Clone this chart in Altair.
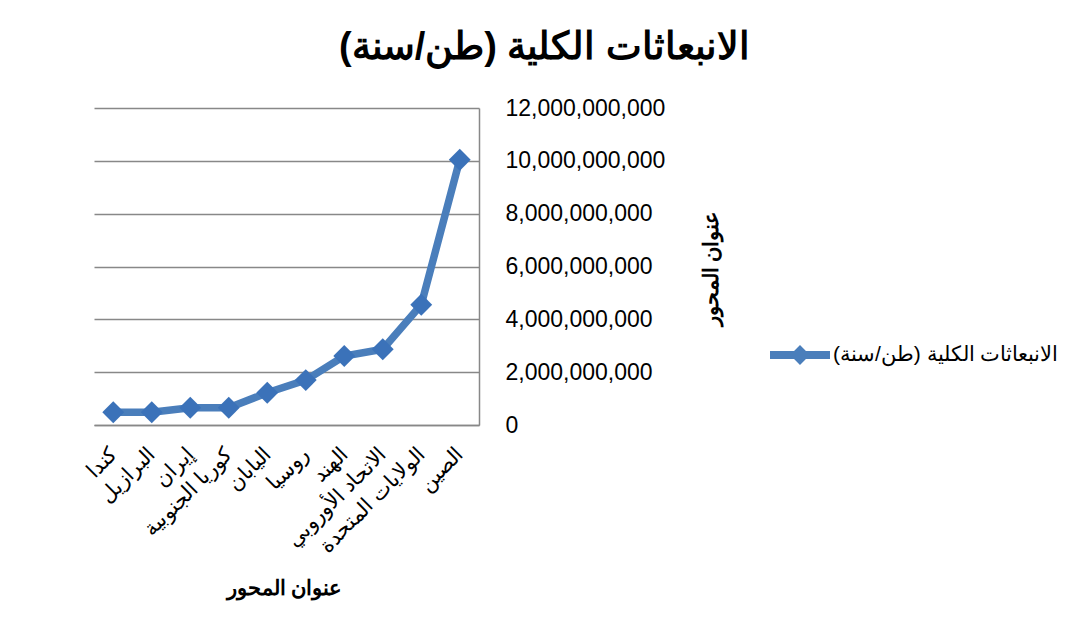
import altair as alt
import pandas as pd

countries = ["كندا", "البرازيل", "إيران", "كوريا الجنوبية", "اليابان", "روسيا",
             "الهند", "الاتحاد الأوروبي", "الولايات المتحدة", "الصين"]
emissions = [480_000_000, 480_000_000, 655_000_000, 655_000_000, 1_220_000_000,
             1_700_000_000, 2_610_000_000, 2_870_000_000, 4_550_000_000, 10_040_000_000]
series_name = "الانبعاثات الكلية (طن/سنة)"
y_ticks = [0, 2e9, 4e9, 6e9, 8e9, 10e9, 12e9]

df = pd.DataFrame({"country": countries, "value": emissions, "series": series_name})

FONT = "Liberation Sans"
LINE = "#4a7ebb"
MARK = "#3b72b9"

x_enc = alt.X("country:N", sort=countries,
              scale=alt.Scale(type="point", padding=0.5),
              axis=alt.Axis(title="عنوان المحور", labelAngle=-45, labelAlign="right",
                            labelBaseline="middle", labelPadding=26, labelFontSize=21,
                            labelFont=FONT, labelColor="#000", ticks=False,
                            domainColor="#888888", domainWidth=1.5, grid=False,
                            titleFont=FONT, titleFontSize=21, titleFontWeight="bold",
                            titleColor="#000", titleBaseline="middle", titleY=163,
                            titleX=190, titleAlign="center"))
y_enc = alt.Y("value:Q", scale=alt.Scale(domain=[0, 12e9], nice=False),
              axis=alt.Axis(orient="right", values=y_ticks, format=",d",
                            title="عنوان المحور", titleAngle=270, titleX=232, titleY=160,
                            titleAlign="center", titleBaseline="middle",
                            titleFont=FONT, titleFontSize=21, titleFontWeight="bold",
                            titleColor="#000", labelFont=FONT, labelFontSize=23,
                            labelColor="#000", labelPadding=26, ticks=False,
                            domainColor="#888888", domainWidth=1.5,
                            grid=True, gridColor="#888888", gridWidth=1.5))

legend_symbol = "M-1,-0.13L1,-0.13L1,0.13L-1,0.13Z M0,-0.33L0.33,0L0,0.33L-0.33,0Z"

color_enc = alt.Color("series:N", scale=alt.Scale(range=[LINE]),
                      legend=alt.Legend(title=None, orient="none", legendX=676, legendY=217,
                                        symbolType=legend_symbol, symbolSize=3600,
                                        symbolFillColor=LINE, symbolStrokeWidth=0,
                                        labelFont=FONT, labelFontSize=21, labelColor="#000",
                                        labelOffset=3, padding=0, labelLimit=400))

line = alt.Chart(df).mark_line(strokeWidth=7.5, color=LINE).encode(
    x=x_enc, y=y_enc, color=color_enc)
points = alt.Chart(df).mark_point(shape="diamond", filled=True, size=480,
                                  color=MARK, opacity=1).encode(
    x=x_enc, y=y_enc)

chart = alt.layer(line, points).properties(
    width=385, height=317,
    title=alt.TitleParams(text="الانبعاثات الكلية (طن/سنة)", font=FONT, fontSize=38,
                          fontWeight="bold", color="#000", anchor="middle",
                          frame="group", dx=258, offset=30),
    autosize=alt.AutoSizeParams(type="none"),
    padding={"left": 86, "top": 100, "right": 589, "bottom": 203},
).configure_view(stroke=None)

chart.save("out.html", embed_options={"renderer": "svg", "actions": False})
